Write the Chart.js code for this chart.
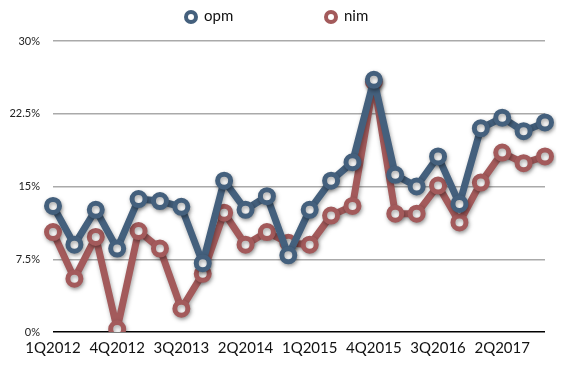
<!DOCTYPE html>
<html>
<head>
<meta charset="utf-8">
<script src="https://cdn.jsdelivr.net/npm/chart.js@4"></script>
<style>
  html, body { margin: 0; padding: 0; background: #fff; }
  #wrap { width: 574px; height: 373px; }
</style>
</head>
<body>
<div id="wrap"><canvas id="marginChart"></canvas></div>
<script>
'use strict';

var quarters = ['1Q2012','2Q2012','3Q2012','4Q2012','1Q2013','2Q2013','3Q2013','4Q2013',
                '1Q2014','2Q2014','3Q2014','4Q2014','1Q2015','2Q2015','3Q2015','4Q2015',
                '1Q2016','2Q2016','3Q2016','4Q2016','1Q2017','2Q2017','3Q2017','4Q2017'];
var opm = [13.0, 9.0, 12.6, 8.6, 13.7, 13.5, 12.9, 7.1,
           15.6, 12.6, 14.0, 7.9, 12.6, 15.6, 17.5, 26.0,
           16.2, 15.0, 18.1, 13.2, 21.0, 22.1, 20.7, 21.6];
var nim = [10.3, 5.5, 9.8, 0.3, 10.4, 8.6, 2.4, 6.0,
           12.3, 9.0, 10.3, 9.2, 9.0, 12.0, 13.0, 25.8,
           12.2, 12.2, 15.1, 11.3, 15.4, 18.5, 17.4, 18.1];
var yTicks = [0, 7.5, 15, 22.5, 30];

var opmColor = '#44607d';
var nimColor = '#a35a5b';

// line shadows
var shadowPlugin = {
    id: 'shadow',
    beforeDatasetsDraw: function (chart) {
        var ctx = chart.ctx;
        ctx.save();
        ctx.shadowColor = 'rgba(0,0,0,0.35)';
        ctx.shadowBlur = 4;
        ctx.shadowOffsetX = 1;
        ctx.shadowOffsetY = 2;
    },
    afterDatasetsDraw: function (chart) {
        chart.ctx.restore();
    }
};

// wide spaced legend on top
var legendPlugin = {
    id: 'topLegend',
    afterDraw: function (chart) {
        var ctx = chart.ctx;
        var items = [{x: 191, text: 'opm', color: opmColor}, {x: 331, text: 'nim', color: nimColor}];
        ctx.save();
        items.forEach(function (it) {
            ctx.beginPath();
            ctx.arc(it.x, 17, 5, 0, Math.PI * 2);
            ctx.fillStyle = '#fff';
            ctx.fill();
            ctx.lineWidth = 4;
            ctx.strokeStyle = it.color;
            ctx.stroke();
            ctx.fillStyle = '#111';
            ctx.font = '15px Lato';
            ctx.textBaseline = 'middle';
            ctx.fillText(it.text, it.x + 13, 16);
        });
        ctx.restore();
    }
};

function lineSet(label, data, color) {
    return {
        label: label,
        data: data,
        borderColor: color,
        borderWidth: 7,
        borderJoinStyle: 'round',
        borderCapStyle: 'round',
        pointRadius: 6.5,
        pointBorderWidth: 5,
        pointBackgroundColor: '#fff',
        pointBorderColor: color,
        tension: 0,
        fill: false
    };
}

var ctx = document.getElementById('marginChart').getContext('2d');
var chart = new Chart(ctx, {
    type: 'line',
    data: {
        labels: quarters,
        datasets: [lineSet('opm', opm, opmColor), lineSet('nim', nim, nimColor)]
    },
    options: {
        responsive: true,
        maintainAspectRatio: false,
        animation: false,
        layout: { padding: { top: 41, right: 29, bottom: 9, left: 0 } },
        plugins: { legend: { display: false }, tooltip: { enabled: false } },
        scales: {
            x: {
                offset: false,
                grid: { display: false, drawTicks: false },
                border: { display: false },
                ticks: {
                    autoSkip: false,
                    maxRotation: 0,
                    padding: 7,
                    color: '#111',
                    font: { family: 'Lato', size: 15 },
                    callback: function (v, i) { return i % 3 === 0 ? quarters[i] : null; }
                }
            },
            y: {
                min: 0,
                max: 30,
                afterBuildTicks: function (axis) {
                    axis.ticks = yTicks.map(function (v) { return {value: v}; });
                },
                afterFit: function (axis) { axis.width = 53; },
                grid: {
                    drawTicks: false,
                    lineWidth: 1.5,
                    color: function (c) { return c.tick && c.tick.value === 0 ? '#000' : '#aaaaaa'; }
                },
                border: { display: false },
                ticks: {
                    padding: 13,
                    color: '#222',
                    font: { family: 'Lato', size: 11 },
                    callback: function (v) { return v + '%'; }
                }
            }
        }
    },
    plugins: [shadowPlugin, legendPlugin]
});
</script>
</body>
</html>
